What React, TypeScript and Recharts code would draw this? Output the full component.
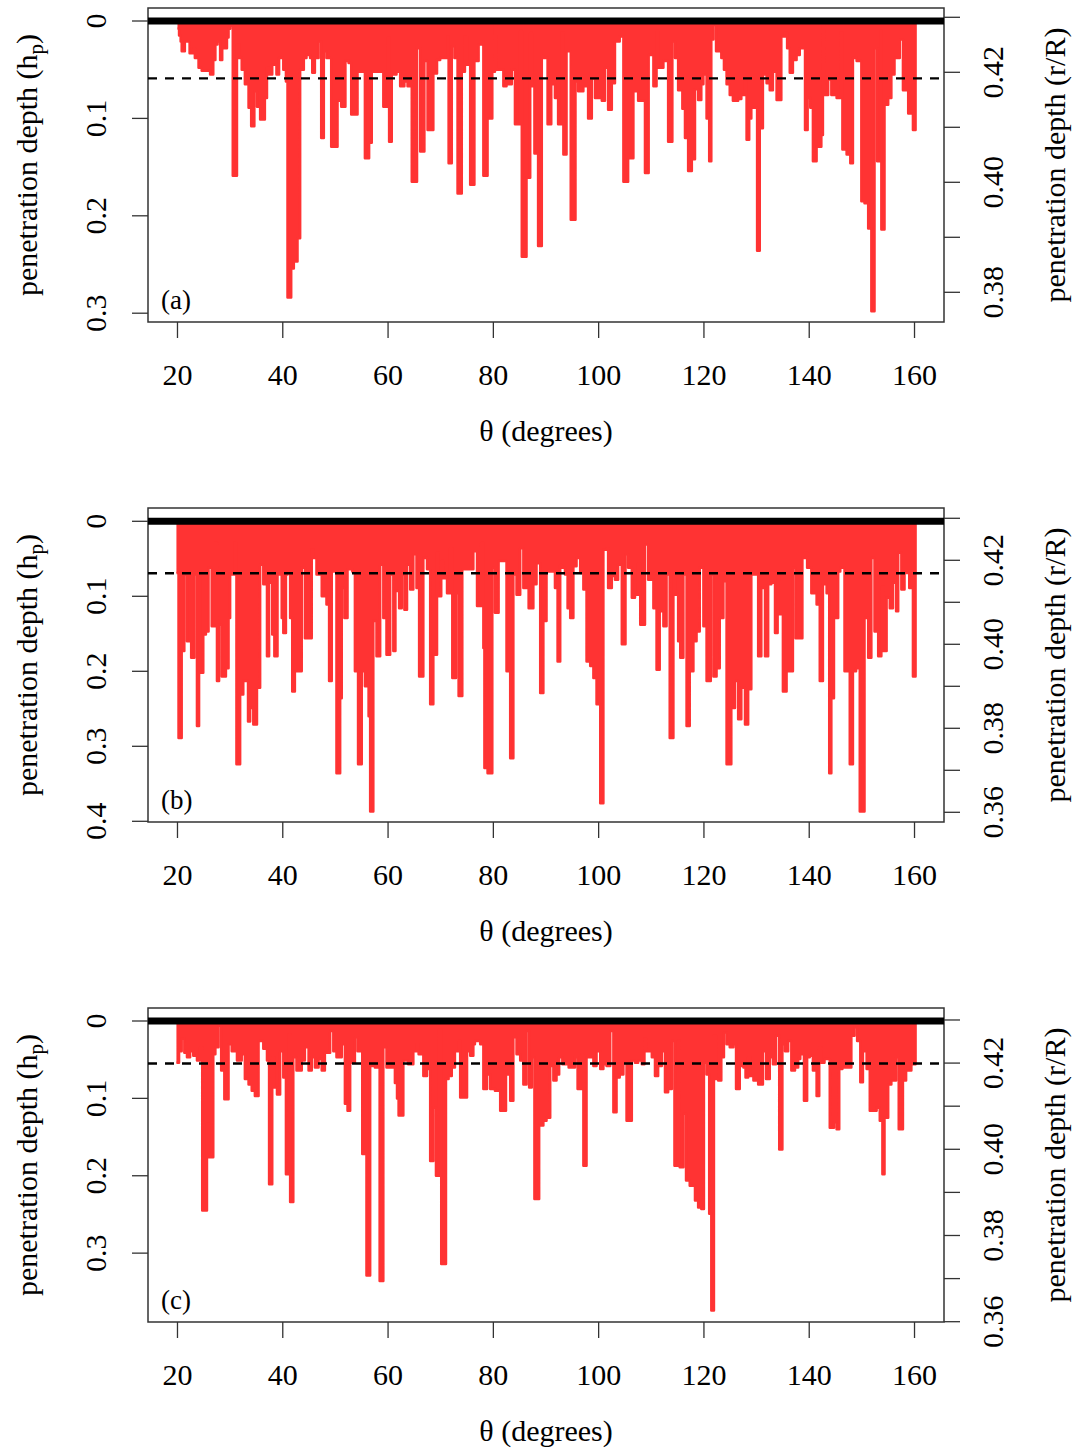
import React from 'react';
import {
  ComposedChart,
  Area,
  XAxis,
  YAxis,
  ReferenceLine,
  ReferenceArea,
  Label,
} from 'recharts';

// Penetration depth profiles, [theta (deg), h_p] – each value holds until the next theta
const profileA: [number, number][] = [
  [20.0, 0.008], [20.3, 0.015], [20.6, 0.021], [20.8, 0.031], [21.4, 0.021], [22.3, 0.033],
  [23.0, 0.028], [23.3, 0.038], [24.0, 0.048], [24.6, 0.051], [26.2, 0.055], [26.8, 0.040],
  [27.2, 0.024], [27.6, 0.021], [28.1, 0.040], [28.5, 0.028], [29.4, 0.017], [29.7, 0.008],
  [30.0, 0.005], [30.5, 0.159], [31.3, 0.024], [31.7, 0.038], [32.2, 0.050], [32.8, 0.065],
  [33.5, 0.089], [34.0, 0.108], [34.6, 0.072], [35.1, 0.088], [35.7, 0.101], [36.6, 0.079],
  [37.0, 0.048], [37.4, 0.055], [38.0, 0.045], [38.8, 0.055], [39.3, 0.038], [40.1, 0.050],
  [40.6, 0.062], [40.9, 0.284], [41.6, 0.254], [42.1, 0.247], [42.8, 0.223], [43.3, 0.050],
  [44.0, 0.038], [44.5, 0.035], [45.2, 0.038], [45.6, 0.053], [46.1, 0.038], [46.8, 0.021],
  [47.3, 0.120], [47.8, 0.031], [48.3, 0.038], [49.2, 0.129], [50.4, 0.082], [51.1, 0.088],
  [51.9, 0.041], [52.5, 0.043], [53.0, 0.096], [54.2, 0.052], [55.6, 0.141], [56.4, 0.125],
  [56.9, 0.052], [59.1, 0.088], [59.9, 0.017], [60.2, 0.124], [60.7, 0.055], [61.6, 0.052],
  [62.3, 0.067], [63.1, 0.062], [63.7, 0.067], [64.5, 0.165], [65.5, 0.028], [66.1, 0.134],
  [66.9, 0.041], [67.5, 0.112], [68.6, 0.054], [69.3, 0.040], [69.9, 0.038], [71.3, 0.016],
  [71.5, 0.146], [72.1, 0.026], [72.6, 0.038], [73.2, 0.177], [74.0, 0.052], [74.6, 0.016],
  [75.0, 0.045], [75.6, 0.168], [76.4, 0.041], [77.2, 0.024], [77.7, 0.021], [78.1, 0.159],
  [78.9, 0.100], [79.8, 0.052], [80.3, 0.005], [80.6, 0.050], [81.9, 0.067], [82.5, 0.065],
  [83.5, 0.050], [84.1, 0.106], [85.1, 0.010], [85.4, 0.242], [86.3, 0.161], [87.0, 0.012],
  [87.3, 0.067], [87.8, 0.136], [88.5, 0.231], [89.2, 0.036], [89.5, 0.038], [90.3, 0.106],
  [91.0, 0.065], [91.7, 0.079], [92.3, 0.106], [93.0, 0.012], [93.3, 0.137], [93.9, 0.031],
  [94.7, 0.204], [95.6, 0.062], [96.1, 0.072], [97.1, 0.067], [98.0, 0.100], [98.7, 0.059],
  [99.3, 0.079], [100.6, 0.082], [101.2, 0.048], [101.8, 0.091], [102.5, 0.064], [103.1, 0.021],
  [104.0, 0.016], [104.7, 0.165], [105.6, 0.141], [106.6, 0.072], [107.5, 0.082], [108.8, 0.156],
  [109.5, 0.035], [110.4, 0.067], [111.0, 0.010], [111.3, 0.048], [112.3, 0.041], [113.2, 0.124],
  [114.0, 0.021], [114.5, 0.038], [115.1, 0.071], [115.9, 0.090], [116.4, 0.120], [117.0, 0.154],
  [117.7, 0.142], [118.3, 0.070], [118.9, 0.081], [119.5, 0.065], [119.9, 0.055], [120.5, 0.100],
  [121.0, 0.144], [121.4, 0.019], [121.8, 0.004], [122.3, 0.031], [123.3, 0.038], [123.8, 0.050],
  [124.3, 0.065], [124.9, 0.076], [125.5, 0.082], [126.5, 0.080], [127.1, 0.076], [127.8, 0.062],
  [128.1, 0.122], [128.6, 0.100], [129.0, 0.089], [130.1, 0.236], [130.6, 0.110], [131.2, 0.055],
  [131.9, 0.064], [132.5, 0.071], [133.1, 0.052], [133.8, 0.081], [134.7, 0.016], [135.4, 0.012],
  [135.8, 0.028], [136.3, 0.053], [136.9, 0.040], [137.6, 0.035], [138.2, 0.028], [139.2, 0.112],
  [139.7, 0.079], [140.2, 0.089], [140.7, 0.144], [141.4, 0.129], [142.3, 0.117], [142.6, 0.005],
  [142.9, 0.076], [143.6, 0.060], [144.2, 0.076], [145.2, 0.079], [145.9, 0.012], [146.3, 0.132],
  [147.1, 0.137], [147.8, 0.146], [148.3, 0.038], [149.0, 0.041], [149.9, 0.185], [150.5, 0.187],
  [151.2, 0.213], [151.8, 0.298], [152.4, 0.028], [152.9, 0.144], [153.5, 0.010], [153.7, 0.214],
  [154.3, 0.086], [155.0, 0.079], [155.6, 0.055], [156.2, 0.038], [157.2, 0.019], [157.8, 0.071],
  [158.8, 0.095], [159.7, 0.112], [160.2, 0],
];

const profileB: [number, number][] = [
  [19.8, 0.069], [20.2, 0.289], [20.8, 0.173], [21.3, 0.071], [21.8, 0.160], [22.6, 0.182],
  [23.2, 0.071], [23.7, 0.273], [24.1, 0.067], [24.3, 0.202], [24.9, 0.151], [25.4, 0.147],
  [25.9, 0.062], [26.5, 0.140], [27.1, 0.029], [27.5, 0.213], [27.9, 0.138], [28.4, 0.207],
  [29.2, 0.196], [29.7, 0.129], [30.0, 0.071], [30.8, 0.029], [31.2, 0.324], [31.9, 0.231],
  [32.5, 0.213], [33.4, 0.267], [33.8, 0.249], [34.4, 0.271], [35.1, 0.222], [35.7, 0.058],
  [36.3, 0.084], [37.0, 0.180], [37.4, 0.082], [38.0, 0.151], [38.4, 0.180], [39.0, 0.071],
  [39.8, 0.129], [40.1, 0.149], [40.6, 0.071], [40.9, 0.067], [41.4, 0.129], [41.8, 0.227],
  [42.3, 0.200], [43.0, 0.200], [43.6, 0.062], [44.2, 0.156], [44.9, 0.156], [45.5, 0.038],
  [45.8, 0.049], [46.4, 0.071], [47.4, 0.100], [48.3, 0.111], [48.8, 0.213], [49.3, 0.067],
  [50.2, 0.336], [50.9, 0.236], [51.2, 0.089], [51.7, 0.129], [52.3, 0.064], [53.2, 0.067],
  [53.7, 0.200], [54.3, 0.324], [55.0, 0.200], [55.6, 0.220], [56.3, 0.260], [56.6, 0.387],
  [57.2, 0.133], [57.8, 0.180], [58.5, 0.058], [59.1, 0.129], [59.7, 0.178], [60.4, 0.071],
  [61.0, 0.173], [61.4, 0.093], [62.1, 0.116], [62.6, 0.071], [63.1, 0.118], [63.6, 0.058],
  [64.2, 0.091], [64.8, 0.044], [65.4, 0.089], [65.9, 0.207], [66.7, 0.049], [67.4, 0.064],
  [68.0, 0.244], [68.6, 0.178], [69.3, 0.042], [69.6, 0.100], [70.1, 0.053], [70.5, 0.076],
  [71.2, 0.096], [71.8, 0.036], [72.2, 0.209], [72.9, 0.096], [73.4, 0.233], [74.1, 0.064],
  [76.2, 0.040], [76.9, 0.113], [77.7, 0.029], [78.1, 0.169], [78.3, 0.329], [78.9, 0.336],
  [79.8, 0.062], [80.3, 0.122], [81.0, 0.053], [82.5, 0.200], [83.2, 0.316], [83.8, 0.071],
  [84.4, 0.098], [85.1, 0.036], [85.7, 0.089], [86.7, 0.116], [87.6, 0.084], [88.2, 0.056],
  [88.9, 0.229], [89.5, 0.133], [90.1, 0.067], [91.7, 0.089], [92.2, 0.187], [92.7, 0.058],
  [93.0, 0.062], [93.6, 0.071], [94.1, 0.116], [94.6, 0.129], [95.2, 0.060], [95.8, 0.049],
  [96.5, 0.069], [97.1, 0.091], [97.7, 0.187], [98.4, 0.193], [99.0, 0.209], [99.6, 0.244],
  [100.3, 0.376], [100.9, 0.038], [101.5, 0.036], [101.8, 0.089], [102.5, 0.073], [103.1, 0.078],
  [103.7, 0.058], [104.4, 0.164], [105.1, 0.044], [105.6, 0.062], [106.3, 0.102], [106.9, 0.098],
  [107.5, 0.056], [107.9, 0.138], [108.8, 0.031], [109.4, 0.078], [110.4, 0.116], [111.0, 0.198],
  [111.6, 0.120], [112.3, 0.140], [112.9, 0.071], [113.5, 0.289], [114.2, 0.069], [114.5, 0.098],
  [115.1, 0.160], [115.5, 0.182], [116.1, 0.071], [116.7, 0.273], [117.3, 0.200], [118.0, 0.160],
  [118.6, 0.147], [119.2, 0.062], [119.9, 0.140], [120.5, 0.213], [121.3, 0.071], [121.8, 0.207],
  [122.4, 0.196], [123.0, 0.129], [123.7, 0.080], [124.3, 0.324], [125.2, 0.249], [125.9, 0.213],
  [126.5, 0.264], [127.1, 0.222], [127.8, 0.271], [128.4, 0.224], [129.0, 0.071], [130.3, 0.180],
  [130.9, 0.089], [131.6, 0.180], [132.2, 0.084], [132.8, 0.082], [133.5, 0.149], [134.0, 0.067],
  [134.4, 0.124], [135.0, 0.227], [135.7, 0.200], [136.9, 0.062], [137.4, 0.156], [138.7, 0.049],
  [139.2, 0.042], [139.6, 0.062], [140.4, 0.096], [141.4, 0.111], [142.0, 0.213], [142.6, 0.084],
  [143.3, 0.096], [143.8, 0.336], [144.2, 0.236], [144.7, 0.129], [145.5, 0.067], [145.9, 0.062],
  [146.7, 0.200], [147.7, 0.324], [148.3, 0.200], [148.9, 0.196], [149.6, 0.387], [150.5, 0.129],
  [151.2, 0.182], [151.8, 0.049], [152.4, 0.147], [153.1, 0.180], [153.7, 0.087], [154.1, 0.173],
  [154.7, 0.102], [155.3, 0.116], [155.9, 0.082], [156.5, 0.120], [156.9, 0.042], [157.5, 0.091],
  [158.1, 0.069], [159.0, 0.089], [159.7, 0.207], [160.2, 0],
];

const profileC: [number, number][] = [
  [19.8, 0.054], [20.3, 0.039], [20.8, 0.023], [21.3, 0.041], [21.8, 0.047], [22.4, 0.039],
  [23.0, 0.045], [23.7, 0.051], [24.3, 0.034], [24.7, 0.245], [25.6, 0.133], [26.0, 0.176],
  [26.8, 0.043], [27.2, 0.034], [27.8, 0.006], [28.3, 0.064], [28.9, 0.101], [29.7, 0.030],
  [30.3, 0.039], [31.3, 0.051], [32.2, 0.043], [32.8, 0.075], [33.5, 0.082], [34.1, 0.090],
  [34.7, 0.097], [35.4, 0.026], [36.3, 0.036], [37.0, 0.051], [37.4, 0.211], [38.0, 0.047],
  [38.4, 0.086], [38.9, 0.095], [39.5, 0.039], [40.1, 0.073], [40.6, 0.198], [41.1, 0.017],
  [41.4, 0.234], [42.0, 0.047], [42.6, 0.064], [43.6, 0.051], [44.2, 0.034], [44.9, 0.064],
  [45.5, 0.047], [46.1, 0.060], [46.8, 0.049], [47.4, 0.064], [48.0, 0.041], [49.0, 0.013],
  [49.6, 0.039], [50.2, 0.047], [51.2, 0.030], [51.8, 0.107], [52.3, 0.116], [52.8, 0.054],
  [53.7, 0.021], [54.2, 0.039], [55.1, 0.172], [55.9, 0.329], [56.6, 0.058], [57.5, 0.060],
  [58.4, 0.336], [59.1, 0.034], [59.7, 0.060], [61.3, 0.080], [61.7, 0.100], [62.0, 0.122],
  [62.9, 0.051], [63.8, 0.056], [64.8, 0.039], [65.4, 0.030], [65.8, 0.043], [66.7, 0.071],
  [67.4, 0.062], [68.0, 0.181], [68.6, 0.112], [69.1, 0.200], [69.7, 0.011], [70.1, 0.314],
  [71.0, 0.075], [71.5, 0.071], [72.1, 0.060], [72.7, 0.039], [73.4, 0.026], [73.7, 0.099],
  [75.0, 0.039], [75.6, 0.045], [76.2, 0.030], [76.5, 0.026], [77.5, 0.030], [78.1, 0.088],
  [78.8, 0.069], [79.4, 0.088], [80.3, 0.090], [81.3, 0.116], [82.4, 0.069], [83.2, 0.103],
  [83.8, 0.021], [84.4, 0.043], [85.1, 0.051], [85.7, 0.082], [86.3, 0.013], [86.8, 0.086],
  [87.3, 0.047], [87.8, 0.230], [88.7, 0.135], [89.5, 0.129], [90.1, 0.125], [90.8, 0.058],
  [91.4, 0.077], [92.0, 0.069], [92.5, 0.047], [93.1, 0.056], [94.3, 0.060], [95.5, 0.047],
  [96.0, 0.088], [96.7, 0.043], [97.1, 0.187], [97.7, 0.047], [99.0, 0.058], [99.6, 0.039],
  [100.3, 0.062], [100.9, 0.056], [101.5, 0.058], [102.2, 0.013], [102.8, 0.118], [103.4, 0.073],
  [104.0, 0.069], [104.7, 0.054], [105.3, 0.129], [106.3, 0.051], [106.9, 0.054], [107.5, 0.051],
  [108.2, 0.056], [108.7, 0.023], [109.1, 0.039], [110.1, 0.047], [110.7, 0.071], [111.3, 0.058],
  [112.0, 0.039], [112.6, 0.092], [113.2, 0.088], [113.9, 0.026], [114.4, 0.187], [115.1, 0.026],
  [115.4, 0.189], [116.1, 0.120], [116.6, 0.206], [117.3, 0.213], [118.3, 0.232], [118.9, 0.241],
  [119.5, 0.243], [120.0, 0.054], [120.5, 0.069], [121.0, 0.249], [121.4, 0.374], [121.9, 0.019],
  [122.3, 0.075], [122.7, 0.077], [123.3, 0.047], [123.8, 0.015], [124.3, 0.030], [124.9, 0.034],
  [125.6, 0.030], [126.1, 0.088], [126.8, 0.058], [127.5, 0.060], [127.9, 0.073], [128.4, 0.047],
  [128.8, 0.071], [129.4, 0.077], [130.3, 0.082], [131.2, 0.039], [131.8, 0.075], [132.5, 0.047],
  [133.1, 0.056], [133.7, 0.019], [134.3, 0.166], [134.9, 0.030], [135.4, 0.039], [136.0, 0.026],
  [136.6, 0.064], [137.3, 0.060], [137.9, 0.049], [138.3, 0.043], [139.0, 0.103], [139.6, 0.047],
  [140.1, 0.045], [140.7, 0.064], [141.4, 0.097], [141.9, 0.034], [142.3, 0.054], [142.9, 0.049],
  [143.9, 0.138], [144.7, 0.131], [145.2, 0.140], [145.7, 0.062], [146.3, 0.060], [148.0, 0.019],
  [148.6, 0.008], [149.1, 0.026], [149.7, 0.079], [150.2, 0.039], [150.9, 0.062], [151.5, 0.116],
  [152.8, 0.112], [153.4, 0.129], [153.9, 0.198], [154.3, 0.125], [155.0, 0.082], [155.6, 0.077],
  [156.5, 0.047], [157.0, 0.140], [157.8, 0.077], [158.4, 0.064], [159.4, 0.056], [160.2, 0],
];

// mean penetration depth (dashed line)
const meanA = 0.0589;
const meanB = 0.0693;
const meanC = 0.0549;

const thetaTicks = [20, 40, 60, 80, 100, 120, 140, 160];
const thetaDomain: [number, number] = [14.4, 165.6];

const hpTicksA = [0, 0.1, 0.2, 0.3];
const hpTicksB = [0, 0.1, 0.2, 0.3, 0.4];
const hpTicksC = [0, 0.1, 0.2, 0.3];

const rTicksA = [0.38, 0.39, 0.4, 0.41, 0.42, 0.43];
const rLabelsA = ['0.38', '', '0.40', '', '0.42', ''];
const rTicksBC = [0.36, 0.37, 0.38, 0.39, 0.4, 0.41, 0.42, 0.43];
const rLabelsBC = ['0.36', '', '0.38', '', '0.40', '', '0.42', ''];

const SERIF = "'Liberation Serif', 'Times New Roman', Times, serif";
const RED = '#ff3333';
const W = 1075;
const H = 500;

function HpTick(props: any) {
  const { x, y, payload } = props;
  return (
    <text x={x} y={y} transform={`rotate(-90 ${x} ${y})`} textAnchor="middle"
      fontFamily={SERIF} fontSize={30} fill="#000">
      {String(payload.value)}
    </text>
  );
}

function makeRTick(ticks: number[], labels: string[]) {
  return function RTick(props: any) {
    const { x, y, payload } = props;
    const label = labels[ticks.indexOf(payload.value)] ?? '';
    if (!label) return <g />;
    return (
      <text x={x} y={y} transform={`rotate(-90 ${x} ${y})`} textAnchor="middle"
        fontFamily={SERIF} fontSize={30} fill="#000">
        {label}
      </text>
    );
  };
}

function ThetaTick(props: any) {
  const { x, y, payload } = props;
  return (
    <text x={x} y={y} textAnchor="middle" fontFamily={SERIF} fontSize={30} fill="#000">
      {String(payload.value)}
    </text>
  );
}

const XTitle = ({ viewBox }: any) => (
  <text x={viewBox.x + viewBox.width / 2} y={viewBox.y + 119} textAnchor="middle"
    fontFamily={SERIF} fontSize={30} fill="#000">
    θ (degrees)
  </text>
);

const HpTitle = ({ viewBox }: any) => {
  const x = viewBox.x + viewBox.width - 111;
  const y = viewBox.y + viewBox.height / 2;
  return (
    <text x={x} y={y} transform={`rotate(-90 ${x} ${y})`} textAnchor="middle"
      fontFamily={SERIF} fontSize={30} fill="#000">
      <tspan>penetration depth (h</tspan>
      <tspan fontSize={21} dy={6}>p</tspan>
      <tspan dy={-6}>)</tspan>
    </text>
  );
};

const RTitle = ({ viewBox }: any) => {
  const x = viewBox.x + 121;
  const y = viewBox.y + viewBox.height / 2;
  return (
    <text x={x} y={y} transform={`rotate(-90 ${x} ${y})`} textAnchor="middle"
      fontFamily={SERIF} fontSize={30} fill="#000">
      penetration depth (r/R)
    </text>
  );
};

interface PanelProps {
  tag: string;
  profile: [number, number][];
  mean: number;
  hpDomain: [number, number];
  hpTicks: number[];
  rDomain: [number, number];
  rTicks: number[];
  rLabels: string[];
  height: number;
}

function Panel({ tag, profile, mean, hpDomain, hpTicks, rDomain, rTicks, rLabels, height }: PanelProps) {
  const rows = profile.map(([theta, depth]) => ({ theta, depth }));
  const RTick = makeRTick(rTicks, rLabels);
  const tickLine = { stroke: '#333', strokeWidth: 1.3 };

  const Tag = ({ viewBox }: any) => (
    <text x={viewBox.x + 13} y={viewBox.y + viewBox.height - 13}
      fontFamily={SERIF} fontSize={27} fill="#000">
      {tag}
    </text>
  );

  return (
    <ComposedChart
      width={W}
      height={height}
      data={rows}
      margin={{ top: 8, left: 88, right: 71, bottom: height - 322 - 60 }}
    >
      <XAxis
        dataKey="theta"
        type="number"
        domain={thetaDomain}
        ticks={thetaTicks}
        allowDataOverflow
        interval={0}
        height={60}
        axisLine={false}
        tickSize={16}
        tickMargin={47}
        tickLine={tickLine}
        tick={<ThetaTick />}
      >
        <Label content={XTitle} />
      </XAxis>
      <YAxis
        yAxisId="hp"
        reversed
        type="number"
        domain={hpDomain}
        ticks={hpTicks}
        allowDataOverflow
        interval={0}
        width={60}
        axisLine={false}
        tickSize={16}
        tickMargin={26}
        tickLine={tickLine}
        tick={<HpTick />}
      >
        <Label content={HpTitle} />
      </YAxis>
      <YAxis
        yAxisId="rR"
        orientation="right"
        type="number"
        domain={rDomain}
        ticks={rTicks}
        allowDataOverflow
        interval={0}
        width={60}
        axisLine={false}
        tickSize={16}
        tickMargin={43}
        tickLine={tickLine}
        tick={<RTick />}
      >
        <Label content={RTitle} />
      </YAxis>
      {/* thick outline mimics the heavy line width of the profile strokes */}
      <Area
        yAxisId="hp"
        type="stepAfter"
        dataKey="depth"
        baseValue={0}
        stroke={RED}
        strokeWidth={2.5}
        strokeLinejoin="round"
        fill={RED}
        fillOpacity={1}
        dot={false}
        activeDot={false}
        isAnimationActive={false}
      />
      <ReferenceLine yAxisId="hp" y={0} stroke="#000" strokeWidth={7} />
      <ReferenceLine yAxisId="hp" y={mean} stroke="#000" strokeWidth={2.4} strokeDasharray="9 8" />
      <ReferenceArea
        yAxisId="hp"
        x1={thetaDomain[0]}
        x2={thetaDomain[1]}
        y1={hpDomain[0]}
        y2={hpDomain[1]}
        ifOverflow="visible"
        fill="none"
        stroke="#333"
        strokeWidth={1.5}
        label={<Label content={Tag} />}
      />
    </ComposedChart>
  );
}

export default function App() {
  return (
    <div style={{ position: 'absolute', left: 0, top: 0, width: W, height: 1452, overflow: 'hidden', background: '#fff' }}>
      <div style={{ position: 'absolute', left: 0, top: 0 }}>
        <Panel tag="(a)" profile={profileA} mean={meanA}
          hpDomain={[-0.01335, 0.30903]} hpTicks={hpTicksA}
          rDomain={[0.3746, 0.43169]} rTicks={rTicksA} rLabels={rLabelsA} height={H} />
      </div>
      <div style={{ position: 'absolute', left: 0, top: 500 }}>
        <Panel tag="(b)" profile={profileB} mean={meanB}
          hpDomain={[-0.01773, 0.40093]} hpTicks={hpTicksB}
          rDomain={[0.35769, 0.43245]} rTicks={rTicksBC} rLabels={rLabelsBC} height={H} />
      </div>
      <div style={{ position: 'absolute', left: 0, top: 1000 }}>
        <Panel tag="(c)" profile={profileC} mean={meanC}
          hpDomain={[-0.0168, 0.389]} hpTicks={hpTicksC}
          rDomain={[0.35993, 0.43278]} rTicks={rTicksBC} rLabels={rLabelsBC} height={452} />
      </div>
    </div>
  );
}
